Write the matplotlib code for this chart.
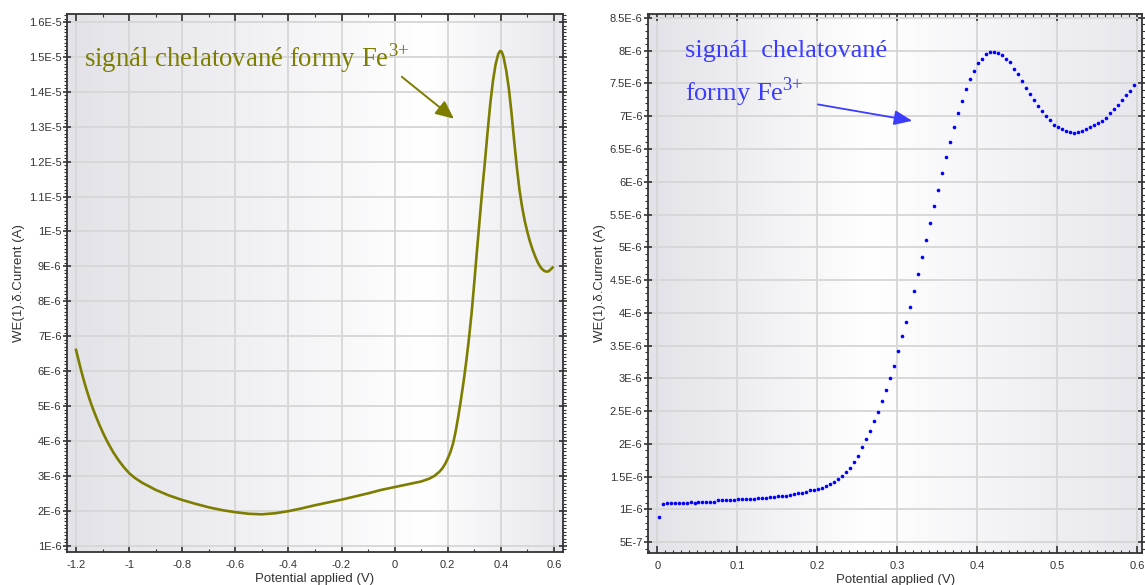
"""Two voltammograms: chelated Fe3+ signal, full scan and detail."""

import numpy as np
import matplotlib
matplotlib.use('Agg')
import matplotlib.pyplot as plt
from matplotlib.ticker import MultipleLocator, AutoMinorLocator, FuncFormatter
from matplotlib.colors import LinearSegmentedColormap

# left panel: full scan (V, A * 1e6)
scan_E = [-1.2, -1.19, -1.18, -1.17, -1.16, -1.15, -1.14, -1.13, -1.12,
          -1.11, -1.1, -1.09, -1.08, -1.06, -1.04, -1.02, -1.0, -0.98,
          -0.95, -0.9, -0.85, -0.8, -0.75, -0.7, -0.65, -0.6, -0.55, -0.5,
          -0.45, -0.4, -0.35, -0.3, -0.25, -0.2, -0.15, -0.1, -0.05, 0.0,
          0.05, 0.1, 0.13, 0.15, 0.17, 0.18, 0.19, 0.2, 0.21, 0.22, 0.23,
          0.24, 0.25, 0.26, 0.27, 0.28, 0.29, 0.30, 0.31, 0.32, 0.33, 0.34,
          0.35, 0.36, 0.37, 0.38, 0.39, 0.397, 0.403, 0.41, 0.42, 0.43,
          0.44, 0.45, 0.46, 0.47, 0.48, 0.49, 0.50, 0.51, 0.52, 0.53, 0.54,
          0.55, 0.56, 0.57, 0.58, 0.59, 0.595]
scan_I = [6.61, 6.30, 6.00, 5.72, 5.46, 5.22, 5.00, 4.80, 4.61,
          4.43, 4.26, 4.10, 3.95, 3.68, 3.45, 3.25, 3.08, 2.95,
          2.80, 2.60, 2.44, 2.31, 2.20, 2.10, 2.02, 1.96, 1.915, 1.90,
          1.93, 1.99, 2.07, 2.16, 2.24, 2.32, 2.41, 2.5, 2.6, 2.68,
          2.76, 2.84, 2.92, 3.0, 3.13, 3.22, 3.34, 3.5, 3.68, 3.93, 4.28,
          4.72, 5.2, 5.72, 6.3, 6.95, 7.68, 8.55, 9.45, 10.33, 11.2, 12.0,
          12.85, 13.65, 14.3, 14.78, 15.08, 15.17, 15.15, 15.0, 14.62, 14.1,
          13.4, 12.6, 11.85, 11.2, 10.7, 10.3, 9.98, 9.7, 9.47, 9.27, 9.1,
          8.97, 8.89, 8.85, 8.86, 8.93, 8.97]

# right panel: detail, one point every 5 mV (A * 1e6)
det_E = 0.0015 + 0.005 * np.arange(120)
det_I = [0.89, 1.09, 1.10, 1.10, 1.10, 1.10, 1.10, 1.10, 1.12, 1.105,
         1.12, 1.12, 1.12, 1.12, 1.12, 1.14, 1.14, 1.14, 1.14, 1.15,
         1.155, 1.155, 1.155, 1.16, 1.165, 1.17, 1.17, 1.175, 1.19, 1.19,
         1.20, 1.20, 1.21, 1.22, 1.235, 1.245, 1.25, 1.27, 1.29, 1.30,
         1.31, 1.33, 1.36, 1.39, 1.42, 1.46, 1.51, 1.57, 1.64, 1.72,
         1.82, 1.95, 2.08, 2.20, 2.35, 2.49, 2.66, 2.83, 3.00, 3.19,
         3.42, 3.64, 3.86, 4.09, 4.34, 4.60, 4.85, 5.11, 5.37, 5.63,
         5.88, 6.13, 6.38, 6.60, 6.83, 7.05, 7.23, 7.41, 7.57, 7.69,
         7.81, 7.88, 7.95, 7.98, 7.98, 7.96, 7.93, 7.88, 7.82, 7.72,
         7.65, 7.54, 7.43, 7.34, 7.25, 7.16, 7.08, 7.01, 6.94, 6.87,
         6.83, 6.80, 6.78, 6.76, 6.75, 6.76, 6.78, 6.80, 6.83, 6.86,
         6.89, 6.93, 6.98, 7.05, 7.11, 7.17, 7.24, 7.32, 7.39, 7.47]

OLIVE = '#7d7d00'
BLUE = '#0000ff'
TXT_BLUE = '#3c3cff'

plt.rcParams['font.family'] = ['Liberation Sans', 'DejaVu Sans']
plt.rcParams['mathtext.fontset'] = 'custom'
plt.rcParams['mathtext.rm'] = 'Liberation Serif'

FE3 = r'Fe$^{\mathrm{3{+}}}$'


def sci_fmt(v, pos):
    if v <= 0:
        return ''
    e = int(np.floor(np.log10(v) + 1e-9))
    m = round(v / 10.**e, 3)
    return '%gE%d' % (m, e)


def style_axes(ax, white_at, ymaj, yminor, xmaj, xminor):
    cmap = LinearSegmentedColormap.from_list(
        'bg', [(0, '#e2e2e8'), (white_at, '#ffffff'), (1, '#e7e7ed')])
    grad = np.linspace(0, 1, 256).reshape(1, -1)
    ax.imshow(grad, extent=[0, 1, 0, 1], transform=ax.transAxes,
              aspect='auto', cmap=cmap, zorder=0)
    ax.set_axisbelow(True)
    ax.grid(True, color='#d6d6d6', lw=1.3)
    ax.xaxis.set_major_locator(MultipleLocator(xmaj))
    ax.xaxis.set_minor_locator(AutoMinorLocator(xminor))
    ax.yaxis.set_major_locator(MultipleLocator(ymaj))
    ax.yaxis.set_minor_locator(AutoMinorLocator(yminor))
    ax.yaxis.set_major_formatter(FuncFormatter(sci_fmt))
    ax.xaxis.set_major_formatter(FuncFormatter(lambda v, p: '%g' % round(v, 2)))
    ax.tick_params(axis='x', which='both', direction='in', top=True,
                   labelsize=8, labelcolor='#333333', color='#333333', pad=6)
    ax.tick_params(axis='x', which='major', length=5, width=1.2)
    ax.tick_params(axis='x', which='minor', length=2.5, width=0.8)
    ax.tick_params(axis='y', which='major', direction='inout', right=True,
                   length=6, width=1.2, labelsize=8, labelcolor='#333333',
                   color='#333333', pad=1)
    ax.tick_params(axis='y', which='minor', direction='out', right=True,
                   length=2.5, width=0.8, color='#333333')
    for s in ax.spines.values():
        s.set_color('#333333')
        s.set_linewidth(1.3)
    ax.set_xlabel('Potential applied (V)', fontsize=9.5, color='#333333',
                  labelpad=2)
    ax.set_ylabel('WE(1).δ.Current (A)', fontsize=9.5, color='#333333',
                  labelpad=3)


fig = plt.figure(figsize=(11.45, 5.85), dpi=100)
ax1 = fig.add_axes([0.0585, 0.0564, 0.4332, 0.9197])
ax2 = fig.add_axes([0.566, 0.0547, 0.4315, 0.9214])

# left: full scan
style_axes(ax1, 0.72, 1e-6, 10, 0.2, 2)
ax1.plot(scan_E, np.array(scan_I) * 1e-6, color=OLIVE, lw=1.9, zorder=3)
ax1.set_xlim(-1.234, 0.634)
ax1.set_ylim(0.82e-6, 1.623e-5)
ax1.text(-1.17, 14.72e-6, 'signál chelatované formy ' + FE3,
         color=OLIVE, fontsize=19.3, family='Liberation Serif', zorder=4)
ax1.annotate('', xy=(0.223, 13.23e-6), xytext=(0.027, 14.43e-6),
             arrowprops=dict(arrowstyle='-|>,head_length=1.1,head_width=0.5',
                             color=OLIVE, lw=1.4, shrinkA=0, shrinkB=0),
             zorder=4)

# right: detail
style_axes(ax2, 0.45, 0.5e-6, 5, 0.1, 10)
ax2.plot(det_E, np.array(det_I) * 1e-6, 'o', color=BLUE, ms=2.6, mew=0,
         zorder=3)
ax2.set_xlim(-0.0116, 0.6066)
ax2.set_ylim(0.336e-6, 8.56e-6)
ax2.text(0.035, 7.91e-6, 'signál  chelatované', color=TXT_BLUE,
         fontsize=19, family='Liberation Serif', zorder=4)
ax2.text(0.035, 7.23e-6, 'formy ' + FE3, color=TXT_BLUE,
         fontsize=19, family='Liberation Serif', zorder=4)
ax2.annotate('', xy=(0.319, 6.93e-6), xytext=(0.201, 7.18e-6),
             arrowprops=dict(arrowstyle='-|>,head_length=1.1,head_width=0.45',
                             color=TXT_BLUE, lw=1.3, shrinkA=0, shrinkB=0),
             zorder=4)

fig.savefig('out.png', dpi=100)
